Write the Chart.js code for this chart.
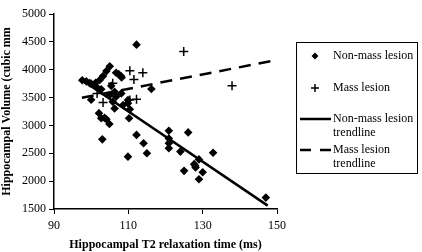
<!DOCTYPE html>
<html>
<head>
<meta charset="utf-8">
<script src="https://cdn.jsdelivr.net/npm/chart.js@4"></script>
<style>
  html, body { margin: 0; padding: 0; background: #fff; }
  #chart { display: block; }
</style>
</head>
<body>
<canvas id="chart" width="422" height="252"></canvas>
<script>
// T2 relaxation time (ms) and hippocampal volume (cubic mm)
const nonMassT2 = [97.6, 98.7, 99.6, 100.0, 101.2, 101.4, 102.3, 102.7, 103.2, 104.1,
    105.0, 100.0, 105.0, 105.4, 106.3, 106.7, 106.7, 107.4, 108.0, 108.2,
    108.1, 105.8, 108.6, 106.3, 109.9, 109.9, 110.4, 116.2, 112.2, 102.1,
    102.7, 103.6, 104.1, 104.9, 110.2, 103.0, 109.9, 112.2, 114.1, 115.0,
    120.9, 120.9, 120.9, 120.9, 124.0, 126.1, 132.8, 125.0, 127.7, 128.1,
    128.0, 130.0, 129.0, 129.0, 147.0];
const nonMassVol = [3810, 3790, 3760, 3750, 3765, 3695, 3815, 3650, 3885, 3975,
    4060, 3460, 3545, 3710, 3605, 3515, 3945, 3920, 3885, 3860,
    3575, 3425, 3365, 3305, 3455, 3400, 3290, 3655, 4450, 3220,
    3130, 3135, 3110, 3025, 3130, 2750, 2440, 2830, 2680, 2500,
    2905, 2765, 2680, 2590, 2530, 2875, 2510, 2185, 2305, 2245,
    2275, 2160, 2035, 2390, 1705];

const massT2 = [101.6, 103.2, 105.8, 110.4, 111.5, 113.9, 110.4, 112.2, 124.9, 137.9];
const massVol = [3575, 3410, 3755, 3980, 3825, 3945, 3455, 3470, 4325, 3710];

// trendline end points
const nonMassTrendT2 = [97.5, 147.5];
const nonMassTrendVol = [3815, 1560];
const massTrendT2 = [97.5, 150];
const massTrendVol = [3495, 4175];

const xTicks = [90, 110, 130, 150];
const yMin = 1500, yMax = 5000, yStep = 500;

const legendItems = [
    { kind: 'diamond', lines: ['Non-mass lesion'] },
    { kind: 'cross', lines: ['Mass lesion'] },
    { kind: 'solid', lines: ['Non-mass lesion', 'trendline'] },
    { kind: 'dashed', lines: ['Mass lesion', 'trendline'] }
];

const serif = '"Liberation Serif", "DejaVu Serif", serif';

function toPoints(xs, ys) {
    return xs.map((x, i) => ({ x: x, y: ys[i] }));
}

// draws the boxed legend on the right
const boxLegend = {
    id: 'boxLegend',
    afterDraw(chart) {
        const ctx = chart.ctx;
        ctx.save();
        ctx.strokeStyle = '#000';
        ctx.lineWidth = 1;
        ctx.strokeRect(296.5, 42.5, 121, 131);

        const rowsY = [56, 88, 119, 150];
        ctx.fillStyle = '#000';
        ctx.font = '12px ' + serif;
        ctx.textBaseline = 'middle';
        legendItems.forEach((item, i) => {
            const y = rowsY[i];
            if (item.kind === 'diamond') {
                ctx.beginPath();
                ctx.moveTo(315, y - 3.5);
                ctx.lineTo(318.5, y);
                ctx.lineTo(315, y + 3.5);
                ctx.lineTo(311.5, y);
                ctx.closePath();
                ctx.fill();
            } else if (item.kind === 'cross') {
                ctx.lineWidth = 1.5;
                ctx.beginPath();
                ctx.moveTo(311, y); ctx.lineTo(319, y);
                ctx.moveTo(315, y - 4); ctx.lineTo(315, y + 4);
                ctx.stroke();
            } else {
                ctx.lineWidth = 2.5;
                ctx.setLineDash(item.kind === 'dashed' ? [11, 9] : []);
                ctx.beginPath();
                ctx.moveTo(300, y); ctx.lineTo(331, y);
                ctx.stroke();
                ctx.setLineDash([]);
            }
            item.lines.forEach((t, j) => {
                ctx.fillText(t, 333, y + j * 14);
            });
        });
        ctx.restore();
    }
};

const ctx = document.getElementById('chart').getContext('2d');
new Chart(ctx, {
    type: 'scatter',
    data: {
        datasets: [
            {
                label: 'Non-mass lesion',
                data: toPoints(nonMassT2, nonMassVol),
                pointStyle: 'rectRot',
                pointRadius: 4.3,
                backgroundColor: '#000',
                borderColor: '#000',
                borderWidth: 0
            },
            {
                label: 'Mass lesion',
                data: toPoints(massT2, massVol),
                pointStyle: 'cross',
                pointRadius: 4.5,
                borderColor: '#000',
                borderWidth: 1.5
            },
            {
                type: 'line',
                label: 'Non-mass lesion trendline',
                data: toPoints(nonMassTrendT2, nonMassTrendVol),
                borderColor: '#000',
                borderWidth: 2.5,
                pointRadius: 0,
                fill: false
            },
            {
                type: 'line',
                label: 'Mass lesion trendline',
                data: toPoints(massTrendT2, massTrendVol),
                borderColor: '#000',
                borderWidth: 2.5,
                borderDash: [12, 8],
                pointRadius: 0,
                fill: false
            }
        ]
    },
    options: {
        responsive: false,
        animation: false,
        layout: { padding: { top: 14, right: 145, left: 0, bottom: 0 } },
        plugins: {
            legend: { display: false },
            tooltip: { enabled: false }
        },
        scales: {
            x: {
                type: 'linear',
                min: xTicks[0],
                max: xTicks[xTicks.length - 1],
                afterBuildTicks: (s) => { s.ticks = xTicks.map(v => ({ value: v })); },
                afterFit: (s) => { s.height = 43; },
                grid: { drawOnChartArea: false, color: '#000', tickLength: 5 },
                border: { color: '#000', width: 1.5 },
                ticks: { color: '#000', font: { family: serif, size: 12 }, padding: 5,
                    callback: (v) => String(v) },
                title: {
                    display: true,
                    text: 'Hippocampal T2 relaxation time (ms)',
                    color: '#000',
                    font: { family: serif, size: 12, weight: 'bold' },
                    padding: { top: 8, bottom: 0 }
                }
            },
            y: {
                min: yMin,
                max: yMax,
                afterFit: (s) => { s.width = 54; },
                grid: { drawOnChartArea: false, color: '#000', tickLength: 5 },
                border: { color: '#000', width: 1.5 },
                ticks: { stepSize: yStep, color: '#000', font: { family: serif, size: 12 }, padding: 3,
                    callback: (v) => String(v) },
                title: {
                    display: true,
                    text: 'Hippocampal Volume (cubic mm',
                    color: '#000',
                    font: { family: serif, size: 12, weight: 'bold' },
                    padding: { top: 0, bottom: 2 }
                }
            }
        }
    },
    plugins: [boxLegend]
});
</script>
</body>
</html>
